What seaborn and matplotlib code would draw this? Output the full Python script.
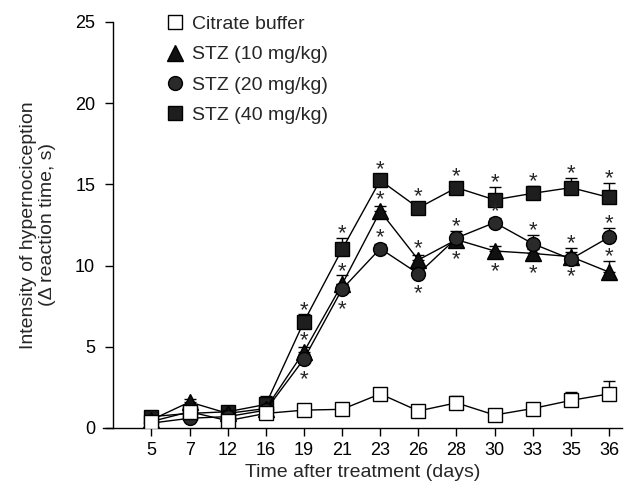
import numpy as np
import pandas as pd
import matplotlib
matplotlib.use("Agg")
import matplotlib.pyplot as plt
import seaborn as sns

days = ["5", "7", "12", "16", "19", "21", "23", "26", "28", "30", "33", "35", "36"]

citrate = [0.4, 1.0, 0.45, 0.9, 1.1, 1.15, 2.1, 1.05, 1.55, 0.8, 1.2, 1.7, 2.1]
citrate_err = [0.2, 0.2, 0.2, 0.2, 0.2, 0.2, 0.2, 0.2, 0.45, 0.2, 0.2, 0.5, 0.8]

stz10 = [0.5, 1.6, 0.9, 1.2, 4.7, 8.85, 13.35, 10.35, 11.6, 10.9, 10.75, 10.55, 9.6]
stz10_err = [0.2, 0.2, 0.2, 0.2, 0.3, 0.55, 0.3, 0.3, 0.3, 0.3, 0.3, 0.3, 0.7]

stz20 = [0.3, 0.6, 0.7, 1.1, 4.25, 8.55, 11.05, 9.5, 11.7, 12.65, 11.35, 10.4, 11.75]
stz20_err = [0.2, 0.2, 0.2, 0.2, 0.3, 0.3, 0.3, 0.3, 0.4, 0.3, 0.55, 0.7, 0.55]

stz40 = [0.7, 0.9, 1.0, 1.45, 6.55, 11.0, 15.25, 13.55, 14.8, 14.05, 14.45, 14.8, 14.2]
stz40_err = [0.2, 0.2, 0.2, 0.5, 0.45, 0.7, 0.35, 0.35, 0.35, 0.8, 0.45, 0.6, 0.9]

# significance markers: 'a' = above, 'b' = below, None = none
stz10_star = [None, None, None, None, 'a', 'a', 'a', 'a', 'b', 'b', 'b', 'b', 'a']
stz20_star = [None, None, None, None, 'b', 'b', 'a', 'b', 'a', 'a', 'a', 'a', 'a']
stz40_star = [None, None, None, None, 'a', 'a', 'a', 'a', 'a', 'a', 'a', 'a', 'a']

labels = ["Citrate buffer", "STZ (10 mg/kg)", "STZ (20 mg/kg)", "STZ (40 mg/kg)"]

sns.set_style("ticks")
plt.rcParams['font.family'] = ['Liberation Sans', 'DejaVu Sans']

fig = plt.figure(figsize=(6.29, 4.83), dpi=100)
ax = fig.add_axes([103 / 629, 55 / 483, 519 / 629, 406 / 483])

x = np.arange(len(days))
half = 0.43  # approx half marker height in data units

series = [
    (stz40, stz40_err, 's', '#1e1e1e', stz40_star, labels[3], 3),
    (stz10, stz10_err, '^', '#111111', stz10_star, labels[1], 4),
    (stz20, stz20_err, 'o', '#2a2a2a', stz20_star, labels[2], 5),
    (citrate, citrate_err, 's', 'white', None, labels[0], 6),
]

handles = {}
for vals, err, mk, fc, stars, lab, z in series:
    vals = np.asarray(vals, float)
    err = np.asarray(err, float)
    ms = 11 if mk == '^' else 10
    ax.errorbar(x, vals, yerr=[np.zeros_like(err), err], fmt='none',
                ecolor='black', elinewidth=1.0, capsize=4.5, capthick=1.0,
                zorder=z - 0.5)
    df = pd.DataFrame({"x": x, "y": vals})
    sns.lineplot(data=df, x="x", y="y", ax=ax, color='black', linewidth=1.0,
                 marker=mk, markersize=ms,
                 markerfacecolor=fc, markeredgecolor='black',
                 markeredgewidth=1.0, sort=False, zorder=z, legend=False)
    handles[lab] = plt.Line2D([], [], linestyle='none', marker=mk,
                              markersize=ms,
                              markerfacecolor=fc, markeredgecolor='black',
                              markeredgewidth=1.0)
    if stars is not None:
        for i, s in enumerate(stars):
            if s == 'a':
                top = vals[i] + max(err[i], half)
                ax.annotate('*', (x[i], top), xytext=(0, -1.0), textcoords='offset points',
                            ha='center', va='baseline', fontsize=16, zorder=7)
            elif s == 'b':
                bot = vals[i] - half
                ax.annotate('*', (x[i], bot), xytext=(0, -13.5), textcoords='offset points',
                            ha='center', va='baseline', fontsize=16, zorder=7)

ax.set_xlim(-1.27, 12.34)
ax.set_ylim(0, 25)
sns.despine(ax=ax)
ax.spines['left'].set_position(('data', -1))
ax.set_xticks(x)
ax.set_xticklabels(days)
ax.set_yticks([0, 5, 10, 15, 20, 25])
ax.tick_params(axis='both', direction='out', length=6, width=1.0,
               labelsize=13, color='black', labelcolor='black')
ax.tick_params(axis='x', pad=4)
ax.tick_params(axis='y', pad=7)
for sp in ['left', 'bottom']:
    ax.spines[sp].set_linewidth(1.0)
    ax.spines[sp].set_color('black')

ax.set_xlabel("Time after treatment (days)", fontsize=14, labelpad=4)
ax.set_ylabel("Intensity of hypernociception\n(\u0394 reaction time, s)", fontsize=14,
              labelpad=14, linespacing=1.1)

ax.legend([handles[l] for l in labels], labels, loc='upper left',
          bbox_to_anchor=(0.105, 1.035), frameon=False, fontsize=14,
          handletextpad=0.35, labelspacing=0.65, handlelength=1.0,
          borderaxespad=0.0)

fig.savefig("out.png", dpi=100)
